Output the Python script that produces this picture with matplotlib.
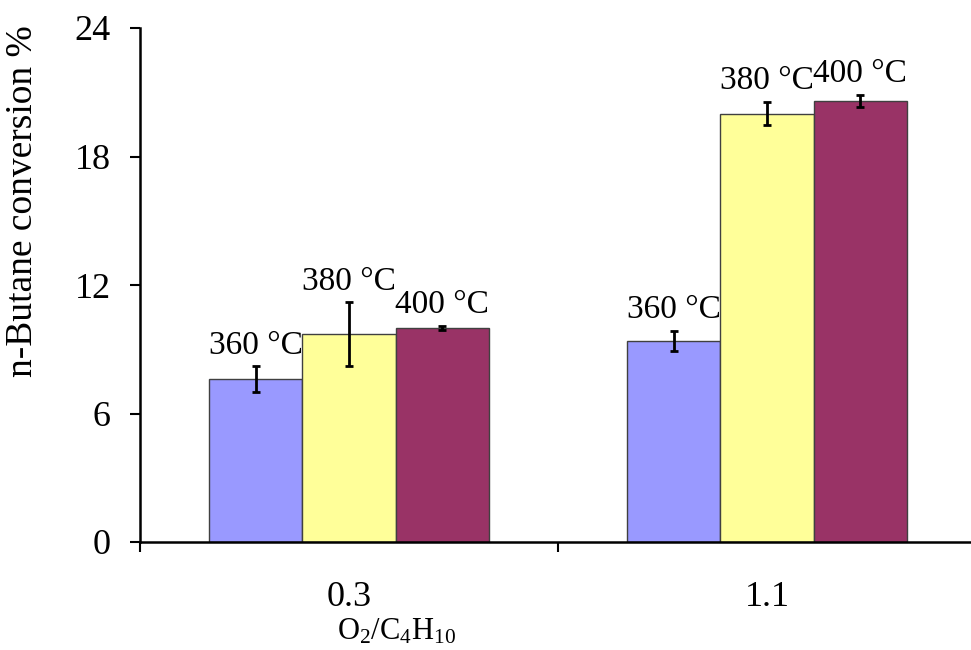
import matplotlib.pyplot as plt
import numpy as np

# Datos
grupos = ['0.3', '1.1']
temperaturas = ['360 °C', '380 °C', '400 °C']
conversion = [[7.6, 9.4],     # 360 °C
              [9.7, 20.0],    # 380 °C
              [10.0, 20.6]]   # 400 °C
error = [[0.6, 0.47],
         [1.5, 0.55],
         [0.1, 0.27]]
colores = ['#9999FF', '#FFFF99', '#993366']

plt.rcParams['font.family'] = ['Liberation Serif', 'DejaVu Serif']
plt.rcParams['mathtext.fontset'] = 'custom'
plt.rcParams['mathtext.rm'] = 'Liberation Serif'

fig = plt.figure(figsize=(9.71, 6.5), dpi=100)
ax = fig.add_axes([140/971, 108/650, 836/971, 514/650])

x = np.arange(len(grupos))
ancho = 0.2225
for i in range(len(temperaturas)):
    pos = x + (i - 1) * ancho
    ax.bar(pos, conversion[i], ancho, color=colores[i], edgecolor='#404040',
           linewidth=1, yerr=error[i], capsize=3,
           error_kw=dict(ecolor='black', elinewidth=2, capthick=2))
    for p, v, e in zip(pos, conversion[i], error[i]):
        ax.annotate(temperaturas[i], (p, v + e), xytext=(0, 4),
                    textcoords='offset points', ha='center', va='bottom',
                    fontsize=24)

ax.set_xlim(-0.5, 1.5)
ax.set_ylim(0, 24)
ax.set_yticks([0, 6, 12, 18, 24])
ax.set_xticks(x)
ax.set_xticklabels(grupos)
ax.set_xticks([-0.5, 0.5, 1.5], minor=True)

ax.spines['top'].set_visible(False)
ax.spines['right'].set_visible(False)
ax.spines['left'].set_linewidth(1.8)
ax.spines['bottom'].set_linewidth(1.8)

ax.tick_params(axis='y', direction='out', length=7, width=1.5,
               labelsize=26, pad=14)
ax.tick_params(axis='x', which='major', length=0, labelsize=26, pad=28)
ax.tick_params(axis='x', which='minor', direction='out', length=7, width=1.5)

ax.set_ylabel('n-Butane conversion %', fontsize=27)
ax.yaxis.set_label_coords(-0.12, 0.663)
ax.set_xlabel(r'$\mathregular{O_2/C_4H_{10}}$', fontsize=22)
ax.xaxis.set_label_coords(0.307, -0.145)

plt.savefig('out.png', dpi=100)
